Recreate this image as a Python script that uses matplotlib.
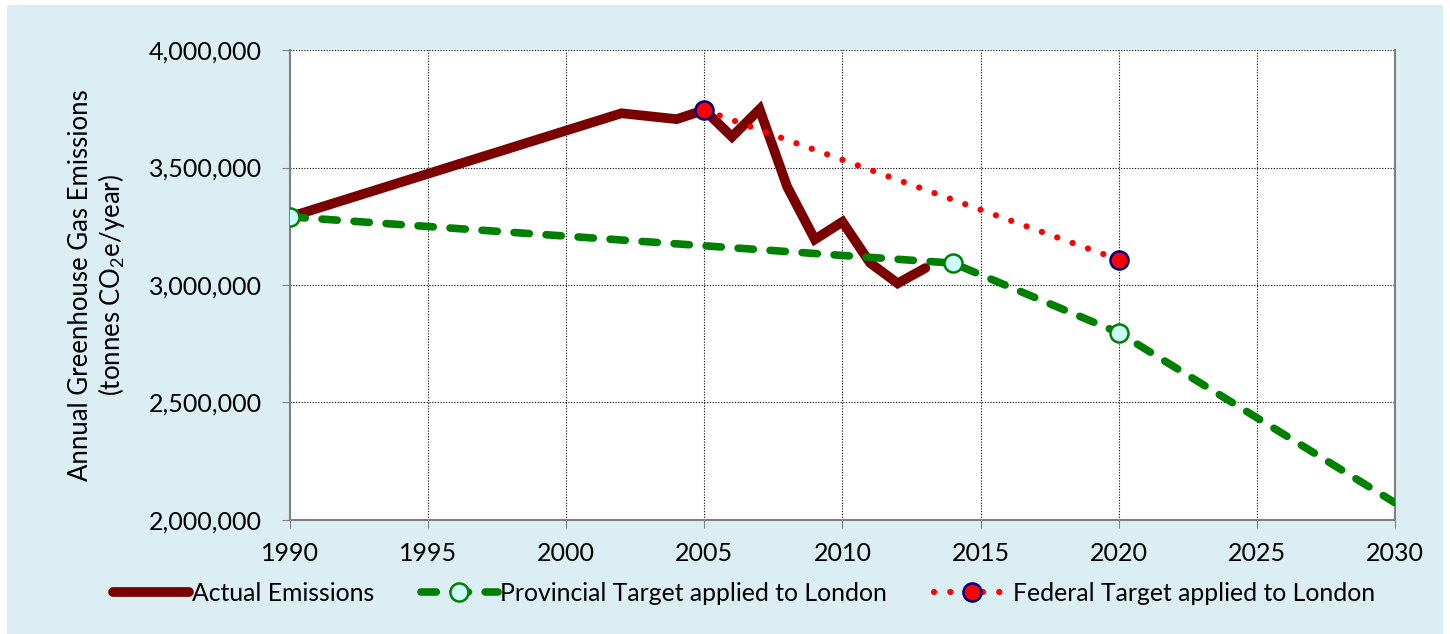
import matplotlib.pyplot as plt
from matplotlib.patches import Rectangle
from matplotlib.ticker import FuncFormatter

plt.rcParams['font.family'] = ['Lato', 'DejaVu Sans']
plt.rcParams['mathtext.fontset'] = 'custom'
plt.rcParams['mathtext.rm'] = 'Lato'
plt.rcParams['mathtext.it'] = 'Lato'

actual_years = [1990, 2002, 2004, 2005, 2006, 2007, 2008, 2009, 2010, 2011, 2012, 2013]
actual_vals = [3290000, 3731000, 3706000, 3745000, 3631000, 3748000, 3418000,
               3194000, 3269000, 3094000, 3007000, 3072000]

prov_years = [1990, 2014, 2020, 2030]
prov_vals = [3290000, 3093000, 2797000, 2073000]
prov_marker_years = [1990, 2014, 2020]

fed_years = [2005, 2020]
fed_vals = [3745000, 3108000]

fig = plt.figure(figsize=(14.5, 6.34), dpi=100)
fig.patch.set_facecolor('white')
fig.add_artist(Rectangle((7 / 1450, 0), 1 - 14 / 1450, 1 - 5 / 634,
                         transform=fig.transFigure, facecolor='#dbeef4',
                         edgecolor='none', zorder=-10))

ax = fig.add_axes([0.2, 0.18, 0.762, 0.741])
ax.set_facecolor('white')

ax.plot(actual_years, actual_vals, color='#7b0000', lw=7,
        solid_capstyle='round', solid_joinstyle='miter', label='Actual Emissions', zorder=3)

prov_idx = [prov_years.index(y) for y in prov_marker_years]
ax.plot(prov_years, prov_vals, color='#008000', lw=5.5, dashes=(2, 2.2),
        dash_capstyle='round', marker='o', markevery=prov_idx, markersize=13,
        markerfacecolor='#ccffff', markeredgecolor='#008000', markeredgewidth=1.8,
        label='Provincial Target applied to London', zorder=4)

ax.plot(fed_years, fed_vals, color='#ff0000', lw=4.5, dashes=(0.01, 2.6),
        dash_capstyle='round', marker='o', markersize=13,
        markerfacecolor='#ff0000', markeredgecolor='#000080', markeredgewidth=1.8,
        label='Federal Target applied to London', zorder=5)

ax.set_xlim(1990, 2030)
ax.set_ylim(2000000, 4000000)
ax.set_xticks(range(1990, 2031, 5))
ax.set_yticks(range(2000000, 4000001, 500000))
ax.yaxis.set_major_formatter(FuncFormatter(lambda v, p: f'{int(v):,}'))
ax.tick_params(axis='both', labelsize=18, direction='out', length=6,
               color='#808080')
ax.tick_params(axis='y', pad=14)
ax.tick_params(axis='x', pad=10)
ax.grid(True, color='black', linestyle=(0, (1, 1.5)), linewidth=0.8)
ax.set_axisbelow(True)
for s in ['left', 'bottom', 'right']:
    ax.spines[s].set_color('#808080')
    ax.spines[s].set_linewidth(1.5)
ax.spines['top'].set_visible(False)

ax.set_ylabel('Annual Greenhouse Gas Emissions\n(tonnes CO$_2$e/year)',
              fontsize=18.5, labelpad=16, linespacing=1.1)

fig.legend(loc='center', bbox_to_anchor=(0.513, 0.064), ncol=3, frameon=False,
           fontsize=17.8, handlelength=3.1, handletextpad=0.1, columnspacing=1.9)

fig.savefig('out.png', dpi=100)
